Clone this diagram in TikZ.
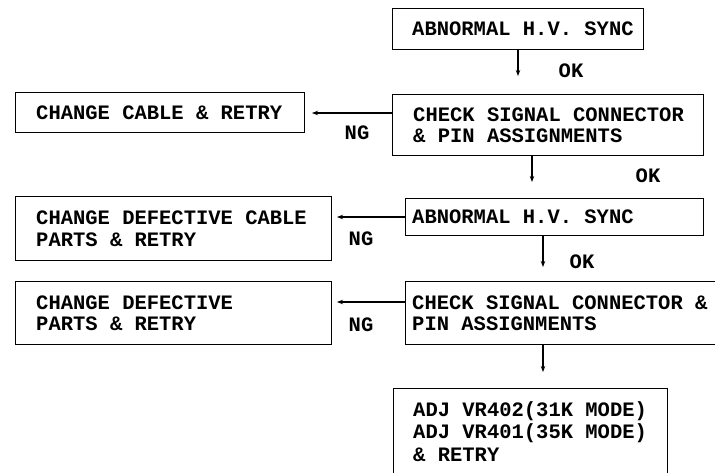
\documentclass[tikz,border=0pt]{standalone}
\usepackage{fontspec}
\setmonofont{Liberation Mono}
\usetikzlibrary{arrows.meta,calc}
\begin{document}
\begin{tikzpicture}[x=1pt,y=-1pt,
  box/.style={draw, line width=1.4pt, anchor=north west, inner sep=0pt},
  txt/.style={anchor=west, align=left, inner sep=0pt, font=\ttfamily\bfseries\fontsize{20.5}{21.5}\selectfont},
  lbl/.style={inner sep=0pt, font=\ttfamily\bfseries\fontsize{20.5}{21.5}\selectfont},
  arr/.style={line width=1.2pt, -{Stealth[length=6pt,width=4.5pt]}}]
\useasboundingbox (0,0) rectangle (715,473);
\clip (0,0) rectangle (715,473);
% right column boxes
\node[box, minimum width=251pt, minimum height=41pt] (b1) at (392,8) {};
\node[box, minimum width=311pt, minimum height=61pt] (b2) at (392,94) {};
\node[box, minimum width=298pt, minimum height=37pt] (b3) at (405,198) {};
\node[box, minimum width=340pt, minimum height=63pt] (b4) at (405,281) {};
\node[box, minimum width=274pt, minimum height=110pt] (b5) at (393,388) {};
% left column boxes
\node[box, minimum width=289pt, minimum height=40pt] (l1) at (15,92) {};
\node[box, minimum width=316pt, minimum height=64pt] (l2) at (15,196) {};
\node[box, minimum width=316pt, minimum height=63pt] (l3) at (15,281) {};
% texts
\node[txt] (b1t) at ([xshift=20pt]b1.west) {ABNORMAL H.V. SYNC};
\node[txt] (b2t) at ([xshift=21pt]b2.west) {CHECK SIGNAL CONNECTOR\\\& PIN ASSIGNMENTS};
\node[txt] (b3t) at ([xshift=7pt]b3.west) {ABNORMAL H.V. SYNC};
\node[txt] (b4t) at ([xshift=7pt]b4.west) {CHECK SIGNAL CONNECTOR \&\\PIN ASSIGNMENTS};
\node[txt, anchor=north west, font=\ttfamily\bfseries\fontsize{20.5}{22.5}\selectfont] (b5t) at (413,401) {ADJ VR402(31K MODE)\\ADJ VR401(35K MODE)\\\& RETRY};
\node[txt] (l1t) at ([xshift=21pt]l1.west) {CHANGE CABLE \& RETRY};
\node[txt] (l2t) at ([xshift=21pt]l2.west) {CHANGE DEFECTIVE CABLE\\PARTS \& RETRY};
\node[txt] (l3t) at ([xshift=21pt]l3.west) {CHANGE DEFECTIVE\\PARTS \& RETRY};
% arrow ends
\coordinate (t1) at (518,76);
\coordinate (t2) at (532,182);
\coordinate (t3) at (543,267);
\coordinate (t4) at (543,372);
\coordinate (h1) at (312,113);
\coordinate (h2) at (337,217);
\coordinate (h3) at (337,302);
\draw[arr] (b1.south -| t1) -- (t1);
\draw[arr] (b2.south -| t2) -- (t2);
\draw[arr] (b3.south -| t3) -- (t3);
\draw[arr] (b4.south -| t4) -- (t4);
\draw[arr] (b2.west |- h1) -- (h1);
\draw[arr] (b3.west |- h2) -- (h2);
\draw[arr] (b4.west |- h3) -- (h3);
% labels
\node[lbl] (ok1) at (571,71) {OK};
\node[lbl] (ok2) at (648,176) {OK};
\node[lbl] (ok3) at (582,262) {OK};
\node[lbl] (ng1) at (357,133) {NG};
\node[lbl] (ng2) at (361,239) {NG};
\node[lbl] (ng3) at (361,325) {NG};
\end{tikzpicture}
\end{document}
